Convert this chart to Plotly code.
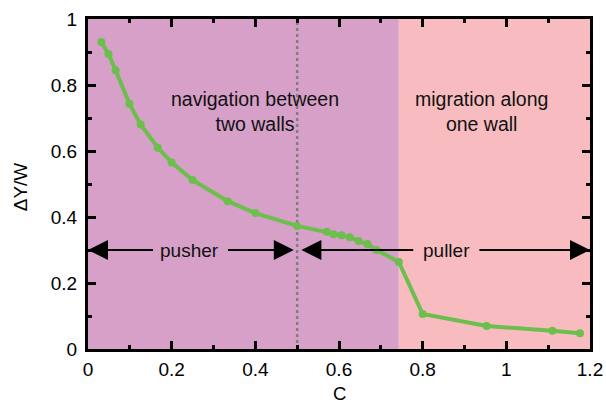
import plotly.graph_objects as go

# Swimmer parameter C and the resulting lateral position ΔY/W
c_values = [0.032, 0.049, 0.066, 0.099, 0.126, 0.167, 0.200, 0.250, 0.334, 0.400,
            0.500, 0.571, 0.587, 0.606, 0.626, 0.647, 0.668, 0.690, 0.743,
            0.800, 0.953, 1.110, 1.176]
dy_over_w = [0.930, 0.894, 0.845, 0.743, 0.680, 0.610, 0.565, 0.512, 0.448, 0.412,
             0.373, 0.355, 0.348, 0.345, 0.339, 0.327, 0.318, 0.300, 0.264,
             0.106, 0.070, 0.055, 0.048]

# Regime boundaries
c_transition = 0.743
c_neutral = 0.5
arrow_level = 0.3

x_range = [0, 1.2]
y_range = [0, 1]
x_ticks = [0, 0.2, 0.4, 0.6, 0.8, 1, 1.2]
x_minor_ticks = [0.1, 0.3, 0.5, 0.7, 0.9, 1.1]
y_ticks = [0, 0.2, 0.4, 0.6, 0.8, 1]
y_minor_ticks = [0.1, 0.3, 0.5, 0.7, 0.9]

FONT = "Liberation Sans, Arial, Helvetica, sans-serif"
GREEN = "#6cbf4c"
TEXT_SIZE = 19

fig = go.Figure()

# neutral swimmer boundary (C = 0.5) as a dotted vertical line
fig.add_trace(go.Scatter(
    x=[c_neutral, c_neutral], y=y_range, mode="lines",
    line=dict(color="#808080", width=2.5, dash="dot"),
    showlegend=False, cliponaxis=False,
))

fig.add_trace(go.Scatter(
    x=c_values, y=dy_over_w, mode="lines+markers",
    line=dict(color=GREEN, width=4),
    marker=dict(color=GREEN, size=8),
    showlegend=False,
))

shapes = [
    dict(type="rect", xref="x", yref="y", x0=x_range[0], x1=c_transition,
         y0=y_range[0], y1=y_range[1],
         fillcolor="#d6a0c8", line_width=0, layer="below"),
    dict(type="rect", xref="x", yref="y", x0=c_transition, x1=x_range[1],
         y0=y_range[0], y1=y_range[1],
         fillcolor="#f8bcc0", line_width=0, layer="below"),
]


def label(text, x, y, size=TEXT_SIZE):
    return dict(x=x, y=y, xref="x", yref="y", showarrow=False, text=text,
                align="center", font=dict(family=FONT, size=size, color="#111111"))


def arrow(tip, tail):
    return dict(x=tip, y=arrow_level, ax=tail, ay=arrow_level,
                xref="x", yref="y", axref="x", ayref="y",
                showarrow=True, arrowhead=2, arrowsize=2, arrowwidth=2,
                arrowcolor="black", text="", standoff=0, startstandoff=0)


annotations = [
    label("navigation between<br>two walls", 0.40, 0.719, 19.5),
    label("migration along<br>one wall", 0.941, 0.719, 19.5),
    label("pusher", 0.243, arrow_level),
    label("puller", 0.858, arrow_level),
    arrow(0.0, 0.159),
    arrow(0.492, 0.331),
    arrow(0.510, 0.781),
    arrow(1.2, 0.932),
    # axis titles
    dict(x=0.5, y=0, xref="paper", yref="paper", yshift=-44, yanchor="middle",
         showarrow=False, text="C",
         font=dict(family=FONT, size=18.5, color="black")),
    dict(x=0, y=0.49, xref="paper", yref="paper", xshift=-68, xanchor="center",
         yanchor="middle", showarrow=False, text="ΔY/W", textangle=-90,
         font=dict(family=FONT, size=TEXT_SIZE, color="black")),
]

axis_style = dict(
    showgrid=False, zeroline=False, automargin=False,
    showline=True, linecolor="black", linewidth=3, mirror="allticks",
    ticks="inside", ticklen=8, tickwidth=2.5, tickcolor="black",
    tickfont=dict(family=FONT, size=TEXT_SIZE, color="black"),
)

fig.update_layout(
    template="none",
    width=606, height=405,
    margin=dict(l=88, r=16, t=19, b=56, autoexpand=False),
    paper_bgcolor="white", plot_bgcolor="white",
    font=dict(family=FONT, size=TEXT_SIZE, color="black"),
    shapes=shapes, annotations=annotations,
    xaxis=dict(range=x_range, tickmode="array", tickvals=x_ticks, ticklabelstandoff=1,
               minor=dict(tickmode="array", tickvals=x_minor_ticks, ticks="inside",
                          ticklen=4, tickwidth=2.5, tickcolor="black"),
               **axis_style),
    yaxis=dict(range=y_range, tickmode="array", tickvals=y_ticks, ticklabelstandoff=4,
               minor=dict(tickmode="array", tickvals=y_minor_ticks, ticks="inside",
                          ticklen=4, tickwidth=2.5, tickcolor="black"),
               **axis_style),
)

fig.write_html("out.html")
